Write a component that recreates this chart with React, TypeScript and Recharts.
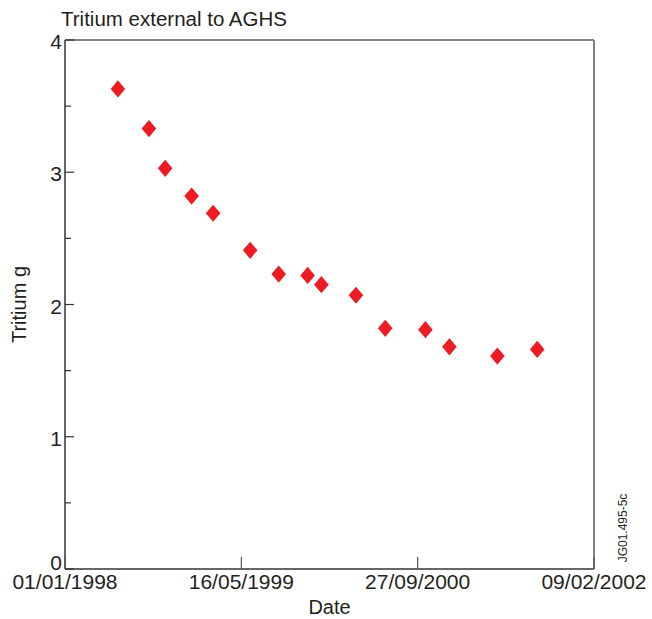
import {
  ScatterChart,
  Scatter,
  XAxis,
  YAxis,
  ReferenceLine,
} from "recharts";

// days since 01/01/1998
const sampleDays = [150, 238, 284, 359, 420, 525, 606, 688, 727, 825, 908, 1022, 1090, 1226, 1339];
const tritiumGrams = [3.63, 3.33, 3.03, 2.82, 2.69, 2.41, 2.23, 2.22, 2.15, 2.07, 1.82, 1.81, 1.68, 1.61, 1.66];

const xTicks = [0, 500, 1000, 1500];
const xTickLabels = ["01/01/1998", "16/05/1999", "27/09/2000", "09/02/2002"];
const yTicks = [0, 0.5, 1, 1.5, 2, 2.5, 3, 3.5, 4];

const FONT = "'Liberation Sans', Arial, Helvetica, sans-serif";
const INK = "#231f20";
const MARKER = "#ed1c24";

const data = sampleDays.map((d, i) => ({ day: d, grams: tritiumGrams[i] }));

function Diamond(props: { cx?: number; cy?: number }) {
  const { cx = 0, cy = 0 } = props;
  const w = 7.3;
  const h = 8.6;
  return (
    <path
      d={`M${cx},${cy - h} L${cx + w},${cy} L${cx},${cy + h} L${cx - w},${cy} Z`}
      fill={MARKER}
    />
  );
}

function XTick(props: { x?: number; y?: number; payload?: { value?: number } }) {
  const { x = 0, y = 0, payload } = props;
  const idx = xTicks.indexOf(payload?.value ?? -1);
  return (
    <g>
      <line x1={x} y1={y} x2={x} y2={y - 12} stroke="#555" strokeWidth={1.2} />
      <text x={x} y={y + 20} textAnchor="middle" fontSize={21} fontFamily={FONT} fill={INK}>
        {idx >= 0 ? xTickLabels[idx] : ""}
      </text>
    </g>
  );
}

function YTick(props: { x?: number; y?: number; payload?: { value?: number } }) {
  const { x = 0, y = 0, payload } = props;
  const v = payload?.value ?? 0;
  const major = Number.isInteger(v);
  // the zero label sits on the axis line so it clears the date labels
  const baseline = v === 0 ? y + 1 : y + 9;
  return (
    <g>
      <line x1={x} y1={y} x2={x + (major ? 9 : 6)} y2={y} stroke="#333" strokeWidth={1.2} />
      {major && (
        <text x={x - 3} y={baseline} textAnchor="end" fontSize={21} fontFamily={FONT} fill={INK}>
          {v}
        </text>
      )}
    </g>
  );
}

export default function App() {
  return (
    <div style={{ position: "absolute", left: 0, top: 0, width: 652, height: 619, background: "#fff" }}>
      <ScatterChart
        width={652}
        height={619}
        margin={{ top: 40, right: 58, bottom: 0, left: 0 }}
      >
        <XAxis
          type="number"
          dataKey="day"
          domain={[0, 1500]}
          ticks={xTicks}
          tick={<XTick />}
          tickSize={0}
          tickMargin={0}
          tickLine={false}
          axisLine={{ stroke: "#333", strokeWidth: 1.5 }}
          height={50}
          interval={0}
          label={{
            value: "Date",
            position: "insideBottom",
            offset: 5,
            fontSize: 20,
            fontFamily: FONT,
            fill: INK,
          }}
        />
        <YAxis
          type="number"
          dataKey="grams"
          domain={[0, 4]}
          ticks={yTicks}
          tick={<YTick />}
          tickSize={0}
          tickMargin={0}
          tickLine={false}
          axisLine={{ stroke: "#333", strokeWidth: 1.5 }}
          width={65}
          interval={0}
          label={{
            value: "Tritium g",
            angle: -90,
            position: "insideLeft",
            offset: 19,
            fontSize: 20,
            fontFamily: FONT,
            fill: INK,
            style: { textAnchor: "middle" },
          }}
        />
        <ReferenceLine y={4} stroke="#808080" strokeWidth={2} />
        <ReferenceLine x={1500} stroke="#808080" strokeWidth={2} />
        <Scatter data={data} shape={<Diamond />} isAnimationActive={false} />
      </ScatterChart>
      <svg
        width={652}
        height={619}
        style={{ position: "absolute", left: 0, top: 0, pointerEvents: "none" }}
      >
        <text x={61} y={26} fontSize={20.5} fontFamily={FONT} fill={INK}>
          Tritium external to AGHS
        </text>
        <text
          x={627}
          y={528}
          textAnchor="middle"
          fontSize={12}
          fontFamily={FONT}
          fill={INK}
          transform="rotate(-90 627 528)"
        >
          JG01.495-5c
        </text>
      </svg>
    </div>
  );
}
